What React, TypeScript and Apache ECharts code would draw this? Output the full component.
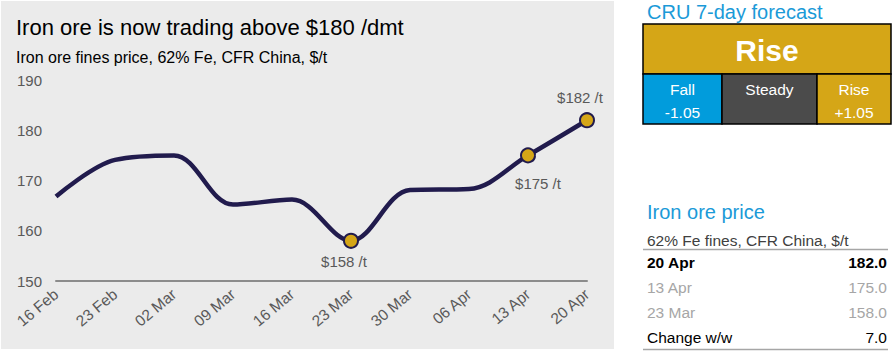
import React, { useEffect, useRef } from "react";
import * as echarts from "echarts";

const categories = ["16 Feb", "23 Feb", "02 Mar", "09 Mar", "16 Mar", "23 Mar", "30 Mar", "06 Apr", "13 Apr", "20 Apr"];
const prices = [166.8, 174.1, 175.0, 165.2, 166.2, 158, 168.1, 168.3, 175, 182];
const yTicks = [150, 160, 170, 180, 190];
const highlighted: Record<string, { label: string; pos: string; offset: number[] }> = {
  "23 Mar": { label: "$158 /t", pos: "bottom", offset: [-7, 5] },
  "13 Apr": { label: "$175 /t", pos: "bottom", offset: [10, 13] },
  "20 Apr": { label: "$182 /t", pos: "top", offset: [-7, -7] },
};
const forecastTitle = "CRU 7-day forecast";
const forecastVerdict = "Rise";
const forecastCells = [
  { name: "Fall", value: "-1.05" },
  { name: "Steady", value: "" },
  { name: "Rise", value: "+1.05" },
];
const tableTitle = "Iron ore price";
const tableSubtitle = "62% Fe fines, CFR China, $/t";
const tableRows = [
  { name: "20 Apr", value: "182.0" },
  { name: "13 Apr", value: "175.0" },
  { name: "23 Mar", value: "158.0" },
  { name: "Change w/w", value: "7.0" },
];

const FONT = "'Liberation Sans', Arial, sans-serif";
const GOLD = "#d5a617";
const NAVY = "#211b4d";
const BLUE = "#1b9ad8";
const CELL_BLUE = "#019cdc";
const DARK = "#4b4b4b";

export default function App() {
  const ref = useRef<HTMLDivElement>(null);
  useEffect(() => {
    if (!ref.current) return;
    const chart = echarts.init(ref.current, null, { renderer: "svg" });

    const data = prices.map((v, i) => {
      const h = highlighted[categories[i]];
      if (!h) return { value: v, symbol: "none" };
      return {
        value: v,
        symbol: "circle",
        symbolSize: 14,
        itemStyle: { color: GOLD, borderColor: NAVY, borderWidth: 2 },
        label: {
          show: true,
          formatter: h.label,
          position: h.pos,
          distance: 0,
          offset: h.offset,
          color: "#595959",
          fontSize: 15,
          fontFamily: FONT,
        },
      };
    });

    const txt = (text: string, x: number, y: number, size: number, fill: string, extra: any = {}) => ({
      type: "text",
      z: 10,
      style: {
        text,
        x,
        y,
        fill,
        font: `${extra.bold ? "bold " : ""}${size}px ${FONT}`,
        textAlign: extra.align || "left",
        textVerticalAlign: "middle",
      },
    });

    const cellX = [643, 722, 817, 891];
    const cellColors = [CELL_BLUE, DARK, GOLD];
    const graphic: any[] = [
      { type: "rect", z: -100, shape: { x: 1, y: 1, width: 613, height: 348 }, style: { fill: "#ebebeb" } },
      txt("Iron ore is now trading above $180 /dmt", 16, 27, 22, "#000"),
      txt("Iron ore fines price, 62% Fe, CFR China, $/t", 16, 57, 16, "#000"),
      txt(forecastTitle, 647, 12, 20, BLUE),
      { type: "rect", z: 5, shape: { x: 643, y: 24, width: 248, height: 50 }, style: { fill: GOLD, stroke: "#000", lineWidth: 1.5 } },
      txt(forecastVerdict, 767, 50, 30, "#fff", { bold: true, align: "center" }),
    ];
    forecastCells.forEach((c, i) => {
      graphic.push({
        type: "rect",
        z: 5,
        shape: { x: cellX[i], y: 74, width: cellX[i + 1] - cellX[i], height: 50 },
        style: { fill: cellColors[i], stroke: "#000", lineWidth: 1.5 },
      });
      const cx = (cellX[i] + cellX[i + 1]) / 2;
      graphic.push(txt(c.name, cx, 89, 15.5, "#fff", { align: "center" }));
      if (c.value) graphic.push(txt(c.value, cx, 112, 15.5, "#fff", { align: "center" }));
    });
    graphic.push(txt(tableTitle, 647, 212, 20, BLUE));
    graphic.push(txt(tableSubtitle, 647, 240, 15.5, "#404040"));
    graphic.push({ type: "line", z: 5, shape: { x1: 643, y1: 249.5, x2: 888, y2: 249.5 }, style: { stroke: "#a6a6a6", lineWidth: 1.5 } });
    graphic.push({ type: "line", z: 5, shape: { x1: 643, y1: 349.5, x2: 888, y2: 349.5 }, style: { stroke: "#a6a6a6", lineWidth: 1.5 } });
    const rowY = [262, 287, 312, 337];
    tableRows.forEach((r, i) => {
      const color = i === 0 || i === 3 ? "#000" : "#a6a6a6";
      const bold = i === 0;
      graphic.push(txt(r.name, 647, rowY[i], 15.5, color, { bold }));
      graphic.push(txt(r.value, 887, rowY[i], 15.5, color, { bold, align: "right" }));
    });

    chart.setOption({
      animation: false,
      backgroundColor: "#ffffff",
      grid: { left: 56, right: 306, top: 80, bottom: 78, containLabel: false },
      xAxis: {
        type: "category",
        data: categories,
        boundaryGap: false,
        axisLine: { show: true, lineStyle: { color: "#8c8c8c", width: 2 } },
        axisTick: { show: false },
        axisLabel: {
          rotate: 40,
          color: "#595959",
          fontSize: 15.5,
          fontFamily: FONT,
          margin: 11,
          interval: 0,
        },
        splitLine: { show: false },
      },
      yAxis: {
        type: "value",
        min: yTicks[0],
        max: yTicks[yTicks.length - 1],
        interval: 10,
        axisLine: { show: false },
        axisTick: { show: false },
        splitLine: { show: false },
        axisLabel: { color: "#595959", fontSize: 15, fontFamily: FONT, margin: 14 },
      },
      series: [
        {
          type: "line",
          data,
          smooth: 0.35,
          showSymbol: true,
          lineStyle: { color: NAVY, width: 4.5 },
          itemStyle: { color: GOLD },
          emphasis: { disabled: true },
          z: 3,
        },
      ],
      graphic,
    });
    return () => chart.dispose();
  }, []);
  return <div ref={ref} style={{ position: "fixed", left: 0, top: 0, width: 893, height: 359 }} />;
}
